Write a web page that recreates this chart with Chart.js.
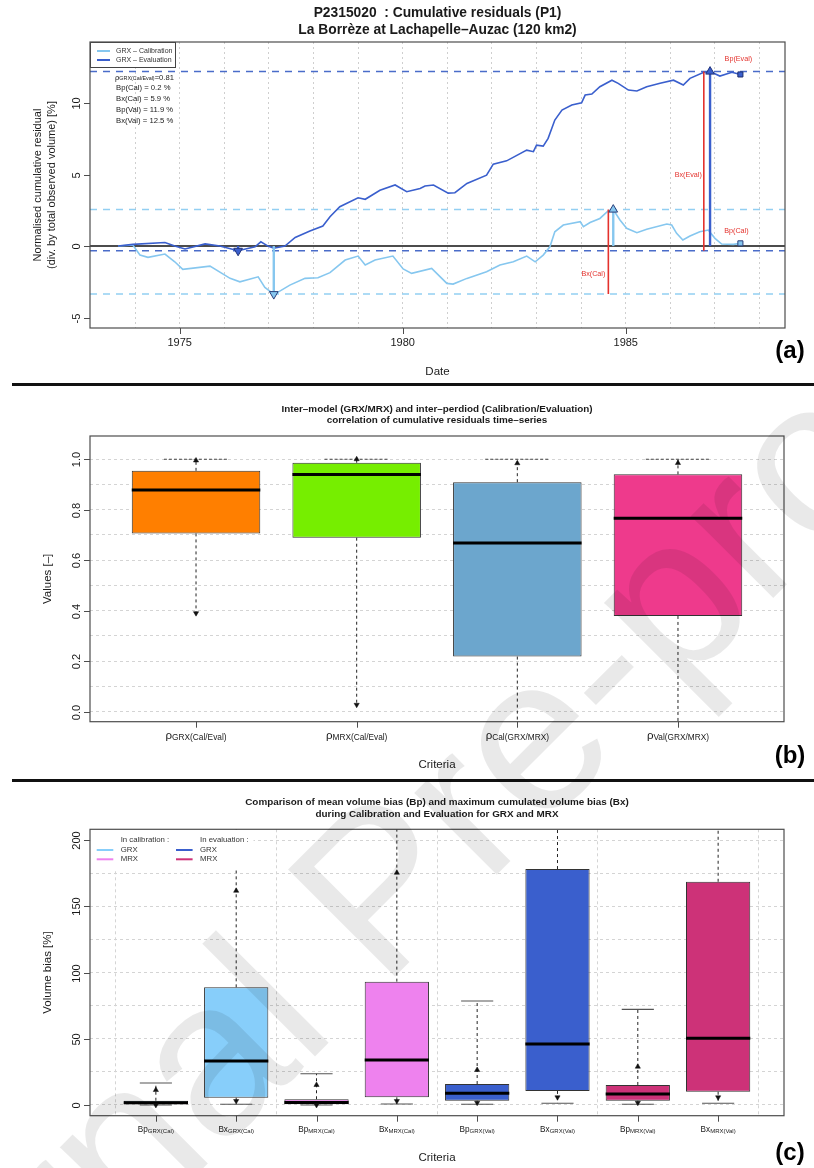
<!DOCTYPE html>
<html>
<head>
<meta charset="utf-8">
<title>P2315020 cumulative residuals</title>
<script src="https://cdn.jsdelivr.net/npm/chart.js@4.4.1/dist/chart.umd.min.js"></script>
<style>
  html, body { margin: 0; padding: 0; background: #fff; }
  body { position: relative; width: 814px; height: 1168px; overflow: hidden; }
  canvas { position: absolute; left: 0; }
  .sep { position: absolute; left: 12px; width: 802px; height: 3px; background: #111; z-index: 2; }
  #wm { position: absolute; left: 376px; top: 888px; transform: translate(-50%, -50%) rotate(-45deg);
        font: 220px "Liberation Sans", Arial, sans-serif; line-height: 1; white-space: nowrap;
        color: rgba(0, 0, 0, 0.085); z-index: 3; pointer-events: none; }
</style>
</head>
<body>
<canvas id="chartA" width="814" height="385" style="top:0"></canvas>
<canvas id="chartB" width="814" height="395" style="top:385px"></canvas>
<canvas id="chartC" width="814" height="388" style="top:780px"></canvas>
<div class="sep" style="top:383px"></div>
<div class="sep" style="top:779px"></div>
<div id="wm">Journal Pre-proof</div>
<script>
// ---------- (a) cumulative residuals ----------
const calYears = [1973.62, 1973.95, 1974.11, 1974.29, 1974.67, 1974.89, 1975.07, 1975.68, 1976.13, 1976.35,
  1976.76, 1976.91, 1977.11, 1977.18, 1977.47, 1977.81, 1978.10, 1978.37, 1978.71, 1979.00,
  1979.16, 1979.38, 1979.78, 1980.01, 1980.20, 1980.65, 1980.99, 1981.13, 1981.44, 1981.88,
  1982.18, 1982.48, 1982.78, 1982.97, 1983.15, 1983.30, 1983.41, 1983.60, 1983.98, 1984.05,
  1984.20, 1984.42, 1984.61, 1984.72, 1984.87, 1985.02, 1985.25, 1985.47, 1985.92, 1986.03,
  1986.14, 1986.28, 1986.44, 1986.66, 1986.85, 1987.00, 1987.15, 1987.41, 1987.57];
const calValues = [0, 0.07, -0.63, -0.79, -0.56, -1.1, -1.63, -1.4, -2.26, -2.5,
  -2.15, -2.89, -3.36, -3.27, -2.73, -2.26, -2.22, -1.86, -0.98, -0.7,
  -1.33, -0.98, -0.7, -1.6, -1.91, -1.56, -2.61, -2.66, -2.26, -1.8,
  -1.33, -1.1, -0.7, -1.1, -0.63, -0.05, 1.0, 1.47, 1.7, 1.35,
  1.65, 1.93, 2.47, 2.55, 1.82, 1.24, 0.93, 1.17, 1.54, 1.47,
  0.89, 0.42, 0.7, 1.0, 1.12, 0.54, 0.14, 0.12, 0.19];
const evalYears = [1973.62, 1973.95, 1974.67, 1974.89, 1975.12, 1975.57, 1975.90, 1976.31, 1976.69, 1976.82,
  1976.98, 1977.11, 1977.36, 1977.59, 1977.92, 1978.21, 1978.37, 1978.59, 1979.00, 1979.16,
  1979.49, 1979.83, 1980.09, 1980.39, 1980.50, 1980.69, 1981.02, 1981.17, 1981.44, 1981.88,
  1982.03, 1982.33, 1982.78, 1982.93, 1983.00, 1983.15, 1983.26, 1983.41, 1983.57, 1983.79,
  1984.01, 1984.09, 1984.24, 1984.42, 1984.69, 1984.83, 1985.06, 1985.25, 1985.47, 1985.77,
  1986.07, 1986.29, 1986.44, 1986.75, 1986.89, 1987.11, 1987.38, 1987.57];
const evalValues = [0, 0.12, 0.25, 0, -0.2, 0.15, 0, -0.33, -0.05, 0.3,
  0, -0.15, 0, 0.6, 1.05, 1.4, 2.05, 2.75, 3.38, 3.27,
  3.9, 4.27, 3.8, 4.03, 4.2, 4.27, 3.7, 3.73, 4.38, 4.96,
  5.73, 5.96, 6.71, 6.6, 7.06, 6.99, 7.53, 8.81, 9.51, 9.86,
  10.02, 10.56, 10.63, 11.14, 11.6, 11.38, 10.91, 10.84, 11.14, 11.38,
  11.6, 11.26, 11.73, 12.15, 12.2, 11.89, 12.15, 12.0];
const yearGrid = [1974, 1975, 1976, 1977, 1978, 1979, 1980, 1981, 1982, 1983, 1984, 1985, 1986, 1987, 1988];
const aXTicks = [1975, 1980, 1985];
const aYTicks = [-5, 0, 5, 10];
const calMax = 2.55, calMin = -3.36, evalMax = 12.2, evalMin = -0.33;
const calMaxDate = 1984.72, calMinDate = 1977.11, evalMaxDate = 1986.89, evalMinDate = 1976.31;
const bxCalDate = 1984.61, bxEvalDate = 1986.75;
const bpDate = 1987.57, bpCal = 0.19, bpEval = 12.0;
const rhoGRX = '0.81';
const statLabels = ['Bp(Cal) = 0.2 %', 'Bx(Cal) = 5.9 %', 'Bp(Val) = 11.9 %', 'Bx(Val) = 12.5 %'];

// ---------- (b) correlations ----------
const critB = ['GRX(Cal/Eval)', 'MRX(Cal/Eval)', 'Cal(GRX/MRX)', 'Val(GRX/MRX)'];
const q1B = [0.706, 0.689, 0.218, 0.379];
const medB = [0.878, 0.939, 0.668, 0.766];
const q3B = [0.954, 0.986, 0.909, 0.940];
const whiskLoB = [0.39, 0.027, -0.2, -0.2];
const whiskHiB = [1.0, 1.0, 1.0, 1.0];
const capHiB = [1.0, 1.0, 1.0, 1.0];
const capLoB = [null, null, null, null];
const upMarkB = [0.995, 1.0, 0.984, 0.985];
const downMarkB = [0.39, 0.027, null, null];
const bGrid = [0, 0.1, 0.2, 0.3, 0.4, 0.5, 0.6, 0.7, 0.8, 0.9, 1.0];
const bYTicks = [0, 0.2, 0.4, 0.6, 0.8, 1.0];
const colorsB = ['#FF7F00', '#76EE00', '#6CA6CD', '#EE3A8C'];

// ---------- (c) volume bias ----------
const critMainC = ['Bp', 'Bx', 'Bp', 'Bx', 'Bp', 'Bx', 'Bp', 'Bx'];
const critSubC = ['GRX(Cal)', 'GRX(Cal)', 'MRX(Cal)', 'MRX(Cal)', 'GRX(Val)', 'GRX(Val)', 'MRX(Val)', 'MRX(Val)'];
const q1C = [0.5, 5.5, 0.5, 5.8, 3.2, 10.6, 3.2, 10.0];
const medC = [1.7, 33.2, 1.9, 34.0, 8.8, 46.0, 8.3, 50.3];
const q3C = [3.2, 88.8, 4.3, 93.1, 15.8, 178.1, 15.1, 168.5];
const whiskLoC = [0, 0.5, 0, 0.7, 0.5, 1.3, 0.5, 1.3];
const whiskHiC = [16.6, 230, 23.6, 230, 78.5, 230, 72.2, 230];
const capHiC = [16.6, null, 23.6, null, 78.5, null, 72.2, null];
const capLoC = [0, 0.5, 0, 0.7, 0.5, 1.3, 0.5, 1.3];
const upMarkC = [11.3, 161.7, 15.1, 175.3, 26.4, null, 28.9, null];
const downMarkC = [0, 3.0, 0, 3.0, 1.7, 5.8, 1.7, 5.8];
const cYGrid = [0, 25, 50, 75, 100, 125, 150, 175, 200];
const cXGrid = [0.5, 2.5, 4.5, 6.5, 8.5];
const cYTicks = [0, 50, 100, 150, 200];
const colorsC = ['#87CEFA', '#87CEFA', '#EE82EE', '#EE82EE', '#3A5FCD', '#3A5FCD', '#CD3278', '#CD3278'];

const LIGHT = '#86C7EF';
const DARK = '#3A5FCD';
const RED = '#E4322D';
const FAM = '"Liberation Sans", Arial, Helvetica, sans-serif';

// ---------- helpers ----------
function label(ctx, s, x, y, size, o = {}) {
  ctx.save();
  ctx.translate(x, y);
  if (o.rot) ctx.rotate(o.rot);
  ctx.font = (o.bold ? 'bold ' : '') + size + 'px ' + FAM;
  ctx.fillStyle = o.color || '#1a1a1a';
  ctx.textAlign = o.align || 'center';
  ctx.textBaseline = 'middle';
  ctx.fillText(s, 0, 0);
  ctx.restore();
}

function subLabel(ctx, main, sub, x, y, size, subSize, drop, align) {
  ctx.save();
  ctx.font = size + 'px ' + FAM;
  const w1 = ctx.measureText(main).width;
  ctx.font = subSize + 'px ' + FAM;
  const w2 = ctx.measureText(sub).width;
  ctx.restore();
  const x0 = align === 'left' ? x : x - (w1 + w2) / 2;
  label(ctx, main, x0, y, size, {align: 'left'});
  label(ctx, sub, x0 + w1, y + drop, subSize, {align: 'left'});
  return x0 + w1 + w2;
}

function frame(chart) {
  const {ctx, chartArea: a} = chart;
  ctx.save();
  ctx.strokeStyle = '#4d4d4d';
  ctx.lineWidth = 1.2;
  ctx.strokeRect(a.left, a.top, a.right - a.left, a.bottom - a.top);
  ctx.restore();
}

function yAxis(chart, ticks, fmt) {
  const {ctx, chartArea: a, scales: {y}} = chart;
  ctx.save();
  ctx.strokeStyle = '#4d4d4d';
  ctx.lineWidth = 1;
  ticks.forEach(v => {
    const py = Math.round(y.getPixelForValue(v)) + 0.5;
    ctx.beginPath(); ctx.moveTo(a.left - 6, py); ctx.lineTo(a.left, py); ctx.stroke();
    label(ctx, fmt(v), a.left - 13.3, py, 11, {rot: -Math.PI / 2});
  });
  ctx.restore();
}

function xTickMarks(chart, ticks) {
  const {ctx, chartArea: a, scales: {x}} = chart;
  ctx.save();
  ctx.strokeStyle = '#4d4d4d';
  ctx.lineWidth = 1;
  ticks.forEach(v => {
    const px = Math.round(x.getPixelForValue(v)) + 0.5;
    ctx.beginPath(); ctx.moveTo(px, a.bottom); ctx.lineTo(px, a.bottom + 6); ctx.stroke();
  });
  ctx.restore();
}

function pts(xs, ys) { return xs.map((v, i) => ({x: v, y: ys[i]})); }

// horizontal cap / median segments centred on each box
function segs(vals, half) {
  const out = [];
  vals.forEach((v, i) => {
    if (v === null) return;
    out.push({x: i + 1 - half, y: v}, {x: i + 1 + half, y: v}, {x: i + 1 + half, y: null});
  });
  return out;
}

function whiskers(q1, q3, lo, hi) {
  const out = [];
  q1.forEach((v, i) => {
    out.push({x: i + 1, y: q3[i]}, {x: i + 1, y: hi[i]}, {x: i + 1, y: null});
    out.push({x: i + 1, y: v}, {x: i + 1, y: lo[i]}, {x: i + 1, y: null});
  });
  return out;
}

function marks(vals) {
  return vals.map((v, i) => (v === null ? null : {x: i + 1, y: v})).filter(Boolean);
}

function gridTicks(list) {
  return s => { s.ticks = list.map(v => ({value: v})); };
}

const baseOptions = {
  responsive: false,
  animation: false,
  devicePixelRatio: 1,
  plugins: {legend: {display: false}, tooltip: {enabled: false}},
  elements: {point: {radius: 0, hoverRadius: 0}, line: {tension: 0}},
  events: []
};

// ---------- chart (a) ----------
const xA = [1972.99, 1988.57];
const yA = [-5.73, 14.27];
const flat = v => [{x: xA[0], y: v}, {x: xA[1], y: v}];
const vert = (x, a, b) => [{x, y: a}, {x, y: b}];
const marker = (x, y, style, rot, bg, border, r) => ({
  data: [{x, y}], showLine: false, pointStyle: style, pointRotation: rot, pointRadius: r,
  pointBackgroundColor: bg, pointBorderColor: border, pointBorderWidth: 1, order: 0
});
const line = (data, color, width, dash, order) => ({
  data, borderColor: color, borderWidth: width, borderDash: dash || [], pointRadius: 0, order
});

const decorA = {
  id: 'decorA',
  afterDatasetsDraw(chart) {
    const {ctx, chartArea: a, scales: {x, y}} = chart;
    label(ctx, 'Bp(Eval)', x.getPixelForValue(bpDate) - 2, y.getPixelForValue(13.05), 7.2, {color: RED});
    label(ctx, 'Bp(Cal)', x.getPixelForValue(bpDate) - 4, y.getPixelForValue(1.05), 7.2, {color: RED});
    label(ctx, 'Bx(Eval)', x.getPixelForValue(bxEvalDate) - 2, y.getPixelForValue(5.0), 7.2, {color: RED, align: 'right'});
    label(ctx, 'Bx(Cal)', x.getPixelForValue(bxCalDate) - 3, y.getPixelForValue(-1.96), 7.2, {color: RED, align: 'right'});

    // legend box
    ctx.save();
    ctx.fillStyle = '#fff';
    ctx.fillRect(a.left, a.top, 85, 25);
    ctx.strokeStyle = '#444';
    ctx.lineWidth = 1;
    ctx.strokeRect(a.left + 0.5, a.top + 0.5, 85, 25);
    [[LIGHT, 'GRX \u2013 Calibration', 9], [DARK, 'GRX \u2013 Evaluation', 18]].forEach(([c, t, dy]) => {
      ctx.strokeStyle = c;
      ctx.lineWidth = 2;
      ctx.beginPath(); ctx.moveTo(a.left + 7, a.top + dy); ctx.lineTo(a.left + 20, a.top + dy); ctx.stroke();
      label(ctx, t, a.left + 26, a.top + dy, 7, {align: 'left', color: '#333'});
    });
    ctx.restore();

    // statistics
    let xe = subLabel(ctx, '\u03c1', 'GRX(Cal/Eval)', a.left + 25, a.top + 35.7, 7.6, 5.4, 1, 'left');
    label(ctx, '=' + rhoGRX, xe, a.top + 35.7, 7.6, {align: 'left'});
    statLabels.forEach((s, i) => label(ctx, s, a.left + 26, a.top + 46.3 + i * 10.7, 7.7, {align: 'left'}));
  },
  afterDraw(chart) {
    const {ctx, chartArea: a, scales: {x}} = chart;
    frame(chart);
    yAxis(chart, aYTicks, v => String(v));
    xTickMarks(chart, aXTicks);
    aXTicks.forEach(v => label(ctx, String(v), x.getPixelForValue(v), a.bottom + 14.7, 11));
    const cx = (a.left + a.right) / 2;
    label(ctx, 'P2315020  : Cumulative residuals (P1)', cx, 13, 13.8, {bold: true});
    label(ctx, 'La Borr\u00e8ze at Lachapelle\u2013Auzac (120 km2)', cx, 30, 13.8, {bold: true});
    label(ctx, 'Normalised cumulative residual', 37.5, (a.top + a.bottom) / 2, 11, {rot: -Math.PI / 2});
    label(ctx, '(div. by total observed volume) [%]', 51.5, (a.top + a.bottom) / 2, 11, {rot: -Math.PI / 2});
    label(ctx, 'Date', cx, 371.7, 11.5);
    label(ctx, '(a)', 790, 351, 24, {bold: true, color: '#000'});
  }
};

new Chart(document.getElementById('chartA'), {
  type: 'line',
  data: {
    datasets: [
      marker(evalMaxDate, evalMax, 'triangle', 0, DARK, '#22347a', 5),
      marker(evalMinDate, evalMin, 'triangle', 180, DARK, '#22347a', 5),
      marker(calMaxDate, calMax, 'triangle', 0, LIGHT, '#2a3f7a', 5),
      marker(calMinDate, calMin, 'triangle', 180, LIGHT, '#2a3f7a', 5),
      marker(bpDate, bpEval, 'rect', 0, DARK, '#1d2f6e', 3.6),
      marker(bpDate, bpCal, 'rect', 0, LIGHT, '#2a3f7a', 3.6),
      line(vert(bxCalDate, calMax, calMin), RED, 1.6, null, 1),
      line(vert(bxEvalDate, evalMax, evalMin), RED, 1.6, null, 1),
      line(vert(calMaxDate, 0, calMax), LIGHT, 2.4, null, 1),
      line(vert(calMinDate, 0, calMin), LIGHT, 2.4, null, 1),
      line(vert(evalMaxDate, 0, evalMax), DARK, 2.4, null, 1),
      line(vert(evalMinDate, 0, evalMin), DARK, 2.4, null, 1),
      line(pts(evalYears, evalValues), DARK, 1.6, null, 2),
      line(pts(calYears, calValues), LIGHT, 1.6, null, 2),
      line(flat(0), '#111', 1.6, null, 3),
      line(flat(evalMax), '#4a6cc9', 1.5, [7, 6], 4),
      line(flat(evalMin), '#4a6cc9', 1.5, [7, 6], 4),
      line(flat(calMax), '#92CFF2', 1.5, [7, 6], 4),
      line(flat(calMin), '#92CFF2', 1.5, [7, 6], 4)
    ]
  },
  options: {
    ...baseOptions,
    layout: {padding: {left: 90, top: 42, right: 29, bottom: 57}},
    scales: {
      x: {
        type: 'linear', min: xA[0], max: xA[1], offset: false,
        ticks: {display: false},
        grid: {color: '#cfcfcf', lineWidth: 1, drawTicks: false, offset: false},
        border: {display: false, dash: [2, 3]},
        afterBuildTicks: gridTicks(yearGrid),
        afterFit: s => { s.height = 0; }
      },
      y: {
        type: 'linear', min: yA[0], max: yA[1],
        ticks: {display: false},
        grid: {display: false},
        border: {display: false},
        afterFit: s => { s.width = 0; }
      }
    }
  },
  plugins: [decorA]
});

// ---------- box charts (b) and (c) ----------
function boxChart(id, cfg) {
  const decor = {
    id: 'decor' + id,
    afterDatasetsDraw(chart) {
      if (cfg.legend) cfg.legend(chart);
    },
    afterDraw(chart) {
      const {ctx, chartArea: a, scales: {x}} = chart;
      frame(chart);
      yAxis(chart, cfg.yTicks, cfg.fmt);
      const cats = cfg.q1.map((v, i) => i + 1);
      xTickMarks(chart, cats);
      cats.forEach((c, i) => cfg.xLabel(ctx, x.getPixelForValue(c), a.bottom + 14.2, i));
      const cx = (a.left + a.right) / 2;
      label(ctx, cfg.title[0], cx, cfg.titleY[0], 9.9, {bold: true});
      label(ctx, cfg.title[1], cx, cfg.titleY[1], 9.9, {bold: true});
      label(ctx, cfg.yTitle, 48, (a.top + a.bottom) / 2, 11.5, {rot: -Math.PI / 2});
      label(ctx, 'Criteria', cx, cfg.critY, 11.5);
      label(ctx, cfg.tag, 790, cfg.tagY, 24, {bold: true, color: '#000'});
    }
  };
  const n = cfg.q1.length;
  return new Chart(document.getElementById(id), {
    type: 'line',
    data: {
      datasets: [
        {data: marks(cfg.up), showLine: false, pointStyle: 'triangle', pointRadius: 3,
         pointBackgroundColor: '#111', pointBorderColor: '#111', pointBorderWidth: 0.5, order: 0},
        {data: marks(cfg.down), showLine: false, pointStyle: 'triangle', pointRotation: 180, pointRadius: 3,
         pointBackgroundColor: '#111', pointBorderColor: '#111', pointBorderWidth: 0.5, order: 0},
        {data: segs(cfg.med, 0.4), borderColor: '#000', borderWidth: 3, pointRadius: 0, order: 1},
        {data: segs(cfg.capHi, 0.2), borderColor: cfg.capColor, borderWidth: 1.1, borderDash: cfg.capDash,
         pointRadius: 0, order: 1},
        {data: segs(cfg.capLo, 0.2), borderColor: '#555', borderWidth: 1.1, pointRadius: 0, order: 1},
        {type: 'bar', data: cfg.q1.map((v, i) => ({x: i + 1, y: [v, cfg.q3[i]]})),
         backgroundColor: cfg.colors, borderColor: '#333', borderWidth: 1, borderSkipped: false,
         categoryPercentage: 0.8, barPercentage: 1, order: 2},
        {data: whiskers(cfg.q1, cfg.q3, cfg.lo, cfg.hi), borderColor: '#222', borderWidth: 1,
         borderDash: [3, 3], pointRadius: 0, clip: 0, order: 3}
      ]
    },
    options: {
      ...baseOptions,
      layout: {padding: cfg.padding},
      scales: {
        x: {
          type: 'linear', min: 0.5 - 0.04 * n, max: n + 0.5 + 0.04 * n, offset: false,
          ticks: {display: false},
          grid: {display: !!cfg.xGrid, color: '#d4d4d4', lineWidth: 1, drawTicks: false, offset: false},
          border: {display: false, dash: [3, 3]},
          afterBuildTicks: gridTicks(cfg.xGrid || cfg.q1.map((v, i) => i + 1)),
          afterFit: s => { s.height = 0; }
        },
        y: {
          type: 'linear', min: cfg.yRange[0], max: cfg.yRange[1],
          ticks: {display: false},
          grid: {color: '#d4d4d4', lineWidth: 1, drawTicks: false},
          border: {display: false, dash: [3, 3]},
          afterBuildTicks: gridTicks(cfg.yGrid),
          afterFit: s => { s.width = 0; }
        }
      }
    },
    plugins: [decor]
  });
}

boxChart('chartB', {
  q1: q1B, med: medB, q3: q3B, lo: whiskLoB, hi: whiskHiB, capHi: capHiB, capLo: capLoB,
  up: upMarkB, down: downMarkB, colors: colorsB, capColor: '#444', capDash: [3, 2],
  yGrid: bGrid, yTicks: bYTicks, fmt: v => v.toFixed(1), yRange: [-0.04, 1.092],
  padding: {left: 90, top: 51, right: 30, bottom: 58.3},
  title: ['Inter\u2013model (GRX/MRX) and inter\u2013perdiod (Calibration/Evaluation)',
          'correlation of cumulative residuals time\u2013series'],
  titleY: [24, 35.5], yTitle: 'Values [\u2013]', critY: 380, tag: '(b)', tagY: 371.7,
  xLabel: (ctx, px, py, i) => subLabel(ctx, '\u03c1', critB[i], px, py, 11.5, 8.3, 1.5)
});

boxChart('chartC', {
  q1: q1C, med: medC, q3: q3C, lo: whiskLoC, hi: whiskHiC, capHi: capHiC, capLo: capLoC,
  up: upMarkC, down: downMarkC, colors: colorsC, capColor: '#555', capDash: [],
  yGrid: cYGrid, xGrid: cXGrid, yTicks: cYTicks, fmt: v => String(v), yRange: [-8.1, 208.1],
  padding: {left: 90, top: 49.3, right: 30, bottom: 52.3},
  title: ['Comparison of mean volume bias (Bp) and maximum cumulated volume bias (Bx)',
          'during Calibration and Evaluation for GRX and MRX'],
  titleY: [22.7, 34.3], yTitle: 'Volume bias [%]', critY: 378, tag: '(c)', tagY: 373,
  xLabel: (ctx, px, py, i) => subLabel(ctx, critMainC[i], critSubC[i], px, py, 8.2, 6, 1.5),
  legend: chart => {
    const {ctx, chartArea: a} = chart;
    ctx.save();
    ctx.fillStyle = '#fff';
    ctx.fillRect(a.left + 0.5, a.top + 0.5, 163, 40.5);
    label(ctx, 'In calibration :', a.left + 30.7, a.top + 10.7, 7.8, {align: 'left', color: '#333'});
    label(ctx, 'In evaluation :', a.left + 110, a.top + 10.7, 7.8, {align: 'left', color: '#333'});
    [[colorsC[0], 'GRX', 6.7, 20.7], [colorsC[2], 'MRX', 6.7, 30],
     [colorsC[4], 'GRX', 86, 20.7], [colorsC[6], 'MRX', 86, 30]].forEach(([c, t, dx, dy]) => {
      ctx.strokeStyle = c;
      ctx.lineWidth = 2;
      ctx.beginPath(); ctx.moveTo(a.left + dx, a.top + dy); ctx.lineTo(a.left + dx + 16.6, a.top + dy); ctx.stroke();
      label(ctx, t, a.left + dx + 24, a.top + dy, 7.8, {align: 'left', color: '#333'});
    });
    ctx.restore();
  }
});
</script>
</body>
</html>
